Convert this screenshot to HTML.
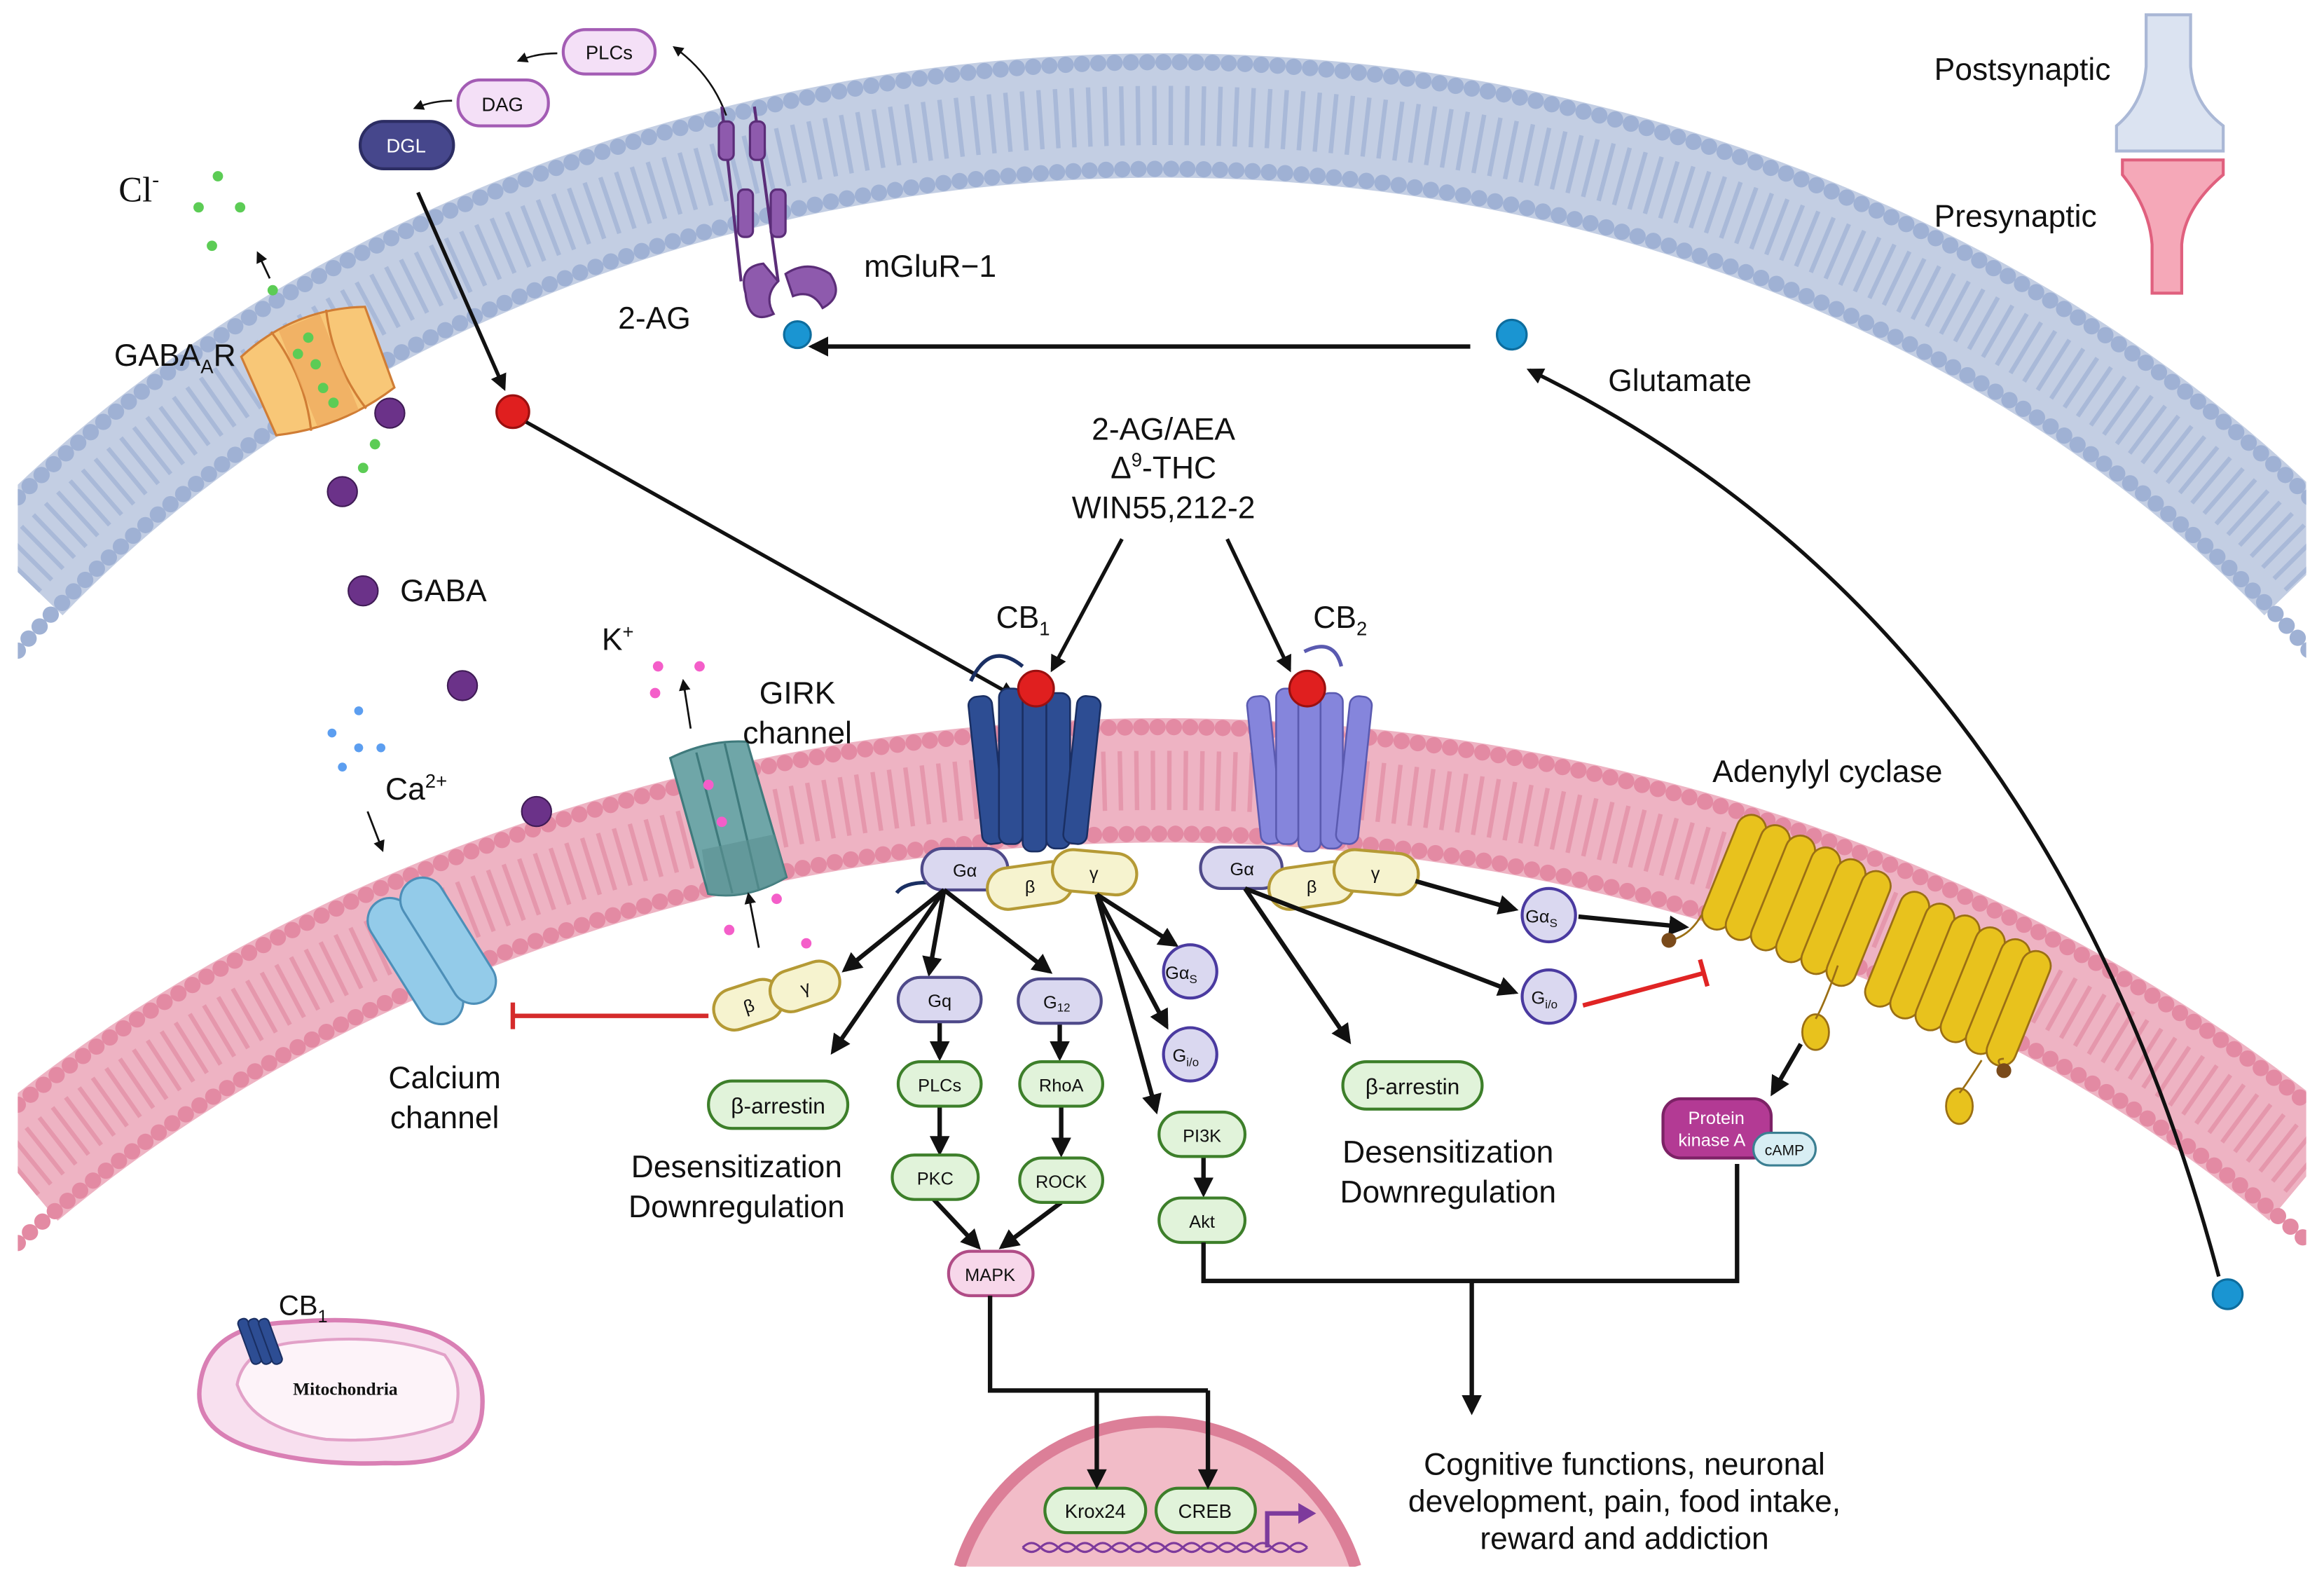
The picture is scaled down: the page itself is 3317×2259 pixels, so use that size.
<!DOCTYPE html>
<html><head><meta charset="utf-8"><style>
html,body{margin:0;padding:0;background:#fff;overflow:hidden;width:3317px;height:2259px;}
svg{display:block;position:absolute;left:0;top:0;}
text{font-family:"Liberation Sans",sans-serif;fill:#111;}
</style></head><body>
<svg width="3317" height="2259" viewBox="0 0 1568 1069" preserveAspectRatio="none" xmlns="http://www.w3.org/2000/svg">
<defs>
<marker id="ah" viewBox="0 0 10 10" refX="8" refY="5" markerWidth="4.5" markerHeight="4.5" orient="auto"><path d="M0,0 L10,5 L0,10 z" fill="#111"/></marker>
<marker id="ahs" viewBox="0 0 10 10" refX="8" refY="5" markerWidth="6" markerHeight="6" orient="auto"><path d="M0,0 L10,5 L0,10 z" fill="#111"/></marker>
<clipPath id="cl"><rect x="12" y="0" width="1544" height="1058"/></clipPath>
</defs>
<rect width="1568" height="1069" fill="#fff"/>
<g clip-path="url(#cl)">
<path d="M12,386.4 A990 822 0 0 1 1558,386.4" fill="none" stroke="#c3cee3" stroke-width="84"/>
<path d="M12,335.8 A1026 858 0 0 1 1558,335.8" fill="none" stroke="#9fb1d4" stroke-width="11" stroke-dasharray="0 11" stroke-linecap="round"/>
<path d="M12,439.4 A954 786 0 0 1 1558,439.4" fill="none" stroke="#9fb1d4" stroke-width="11" stroke-dasharray="0 11" stroke-linecap="round"/>
<path d="M12,386.4 A990 822 0 0 1 1558,386.4" fill="none" stroke="#a9b9d8" stroke-width="40" stroke-dasharray="3 8"/>
<path d="M12,792.1 A1077 873 0 0 1 1558,792.1" fill="none" stroke="#eeb3c3" stroke-width="84"/>
<path d="M12,746 A1113 909 0 0 1 1558,746" fill="none" stroke="#e38aa3" stroke-width="11" stroke-dasharray="0 11" stroke-linecap="round"/>
<path d="M12,839.4 A1041 837 0 0 1 1558,839.4" fill="none" stroke="#e38aa3" stroke-width="11" stroke-dasharray="0 11" stroke-linecap="round"/>
<path d="M12,792.1 A1077 873 0 0 1 1558,792.1" fill="none" stroke="#e597ac" stroke-width="40" stroke-dasharray="3 8"/>
<path d="M647.5,1058 A140 140 0 0 1 914.5,1058 Z" fill="#f2bcc8"/>
<path d="M647.5,1058 A140 140 0 0 1 914.5,1058" fill="none" stroke="#dc7f98" stroke-width="8"/>
</g>

<path d="M1448,10 L1478,10 L1478,45 Q1480,70 1500,85 L1500,102 L1428,102 L1428,85 Q1446,70 1448,45 Z" fill="#dbe3f1" stroke="#aab8d6" stroke-width="2"/>
<path d="M1432,108 L1500,108 L1500,118 Q1474,140 1472,165 L1472,198 L1452,198 L1452,165 Q1450,140 1432,118 Z" fill="#f5a8b8" stroke="#e0607e" stroke-width="2"/>
<text x="1305" y="54" font-size="21">Postsynaptic</text>
<text x="1305" y="153" font-size="21">Presynaptic</text>

<rect x="380" y="20" width="62" height="30" rx="15" fill="#f4e0f7" stroke="#a35cb4" stroke-width="2"/>
<text x="411" y="40" font-size="13" text-anchor="middle">PLCs</text>
<rect x="309" y="54" width="61" height="31" rx="15" fill="#f4e0f7" stroke="#a35cb4" stroke-width="2"/>
<text x="339" y="75" font-size="13" text-anchor="middle">DAG</text>
<rect x="243" y="82" width="63" height="32" rx="16" fill="#46478c" stroke="#2c2d63" stroke-width="2"/>
<text x="274" y="103" font-size="13" text-anchor="middle" style="fill:#fff">DGL</text>
<path d="M376,36 Q362,36 350,41" fill="none" stroke="#111" stroke-width="1.2" marker-end="url(#ahs)"/>
<path d="M305,68 Q292,68 280,73" fill="none" stroke="#111" stroke-width="1.2" marker-end="url(#ahs)"/>
<path d="M490,78 Q480,50 455,32" fill="none" stroke="#111" stroke-width="1.2" marker-end="url(#ahs)"/>

<g stroke="#5b2d78" stroke-width="1.5" fill="#8e5aad">
<line x1="487" y1="72" x2="500" y2="190" stroke-width="2"/>
<line x1="509" y1="72" x2="525" y2="190" stroke-width="2"/>
<rect x="485" y="82" width="10" height="26" rx="4"/>
<rect x="506" y="82" width="10" height="26" rx="4"/>
<rect x="498" y="128" width="10" height="32" rx="4"/>
<rect x="520" y="128" width="10" height="32" rx="4"/>
<path d="M503,198 Q498,180 515,178 L525,190 Q515,200 522,212 Q505,220 503,198 Z"/>
<path d="M530,185 Q545,175 560,185 Q570,200 555,208 Q548,195 535,200 Z"/>
</g>
<text x="583" y="187" font-size="21">mGluR−1</text>
<text x="417" y="222" font-size="21">2-AG</text>
<circle cx="538" cy="226" r="9" fill="#1a95d2" stroke="#0d6d9e" stroke-width="1.5"/>
<circle cx="1020" cy="226" r="10" fill="#1a95d2" stroke="#0d6d9e" stroke-width="1.5"/>
<circle cx="1503" cy="874" r="10" fill="#1a95d2" stroke="#0d6d9e" stroke-width="1.5"/>
<line x1="992" y1="234" x2="548" y2="234" stroke="#111" stroke-width="3" marker-end="url(#ah)"/>
<text x="1085" y="264" font-size="21">Glutamate</text>
<path d="M1497,862 Q1380,420 1032,250" fill="none" stroke="#111" stroke-width="2.5" marker-end="url(#ah)"/>

<text x="80" y="136" font-size="24" style="font-family:'Liberation Serif',serif">Cl<tspan font-size="14" dy="-10">-</tspan></text>
<g fill="#5ccc55"><circle cx="147" cy="119" r="3.5"/><circle cx="134" cy="140" r="3.5"/><circle cx="162" cy="140" r="3.5"/><circle cx="143" cy="166" r="3.5"/><circle cx="184" cy="196" r="3.5"/><circle cx="253" cy="300" r="3.5"/><circle cx="245" cy="316" r="3.5"/></g>
<line x1="182" y1="188" x2="174" y2="171" stroke="#111" stroke-width="1.3" marker-end="url(#ahs)"/>
<text x="77" y="247" font-size="21">GABA<tspan font-size="13" dy="5">A</tspan><tspan dy="-5">R</tspan></text>
<g transform="rotate(-22 215 250)">
<path d="M170,222 Q215,205 260,222 L258,280 Q215,292 172,280 Z" fill="#f8c777" stroke="#d07d35" stroke-width="1.5"/>
<path d="M195,214 Q205,250 195,286 M235,214 Q225,250 235,286" fill="none" stroke="#d07d35" stroke-width="1.5"/>
<rect x="200" y="215" width="30" height="70" fill="#eea95e" opacity="0.7"/>
</g>
<g fill="#5ccc55"><circle cx="208" cy="228" r="3.5"/><circle cx="201" cy="239" r="3.5"/><circle cx="213" cy="246" r="3.5"/><circle cx="218" cy="262" r="3.5"/><circle cx="225" cy="272" r="3.5"/></g>
<g fill="#6b3289" stroke="#3f1b55" stroke-width="1">
<circle cx="263" cy="279" r="10"/><circle cx="231" cy="332" r="10"/><circle cx="245" cy="399" r="10"/><circle cx="312" cy="463" r="10"/><circle cx="362" cy="548" r="10"/>
</g>
<text x="270" y="406" font-size="21">GABA</text>

<line x1="282" y1="130" x2="340" y2="262" stroke="#111" stroke-width="2.5" marker-end="url(#ah)"/>
<circle cx="346" cy="278" r="11" fill="#e01f1f" stroke="#9a1010" stroke-width="1.5"/>
<line x1="355" y1="285" x2="684" y2="470" stroke="#111" stroke-width="2.5" marker-end="url(#ah)"/>

<text x="785" y="297" font-size="21" text-anchor="middle">2-AG/AEA</text>
<text x="785" y="323" font-size="21" text-anchor="middle">Δ<tspan font-size="13" dy="-8">9</tspan><tspan dy="8">-THC</tspan></text>
<text x="785" y="350" font-size="21" text-anchor="middle">WIN55,212-2</text>
<line x1="757" y1="364" x2="710" y2="452" stroke="#111" stroke-width="2.5" marker-end="url(#ah)"/>
<line x1="828" y1="364" x2="870" y2="452" stroke="#111" stroke-width="2.5" marker-end="url(#ah)"/>
<text x="672" y="424" font-size="21">CB<tspan font-size="13" dy="5">1</tspan></text>
<text x="886" y="424" font-size="21">CB<tspan font-size="13" dy="5">2</tspan></text>

<g fill="#2d4d93" stroke="#1a2f63" stroke-width="1.2">
<path d="M655,460 Q668,432 690,450" fill="none" stroke="#1a2f63" stroke-width="2.5"/>
<rect x="658" y="470" width="16" height="100" rx="6" transform="rotate(-6 666 520)"/>
<rect x="674" y="465" width="16" height="105" rx="6"/>
<rect x="690" y="465" width="16" height="110" rx="6"/>
<rect x="706" y="468" width="16" height="105" rx="6"/>
<rect x="722" y="470" width="16" height="100" rx="6" transform="rotate(6 730 520)"/>
</g>
<circle cx="699" cy="465" r="12" fill="#e01f1f" stroke="#9a1010" stroke-width="1.5"/>
<path d="M605,603 Q610,596 625,596" fill="none" stroke="#1a2f63" stroke-width="2.5"/>
<g fill="#8585dc" stroke="#5a5ab0" stroke-width="1.2">
<path d="M880,440 Q900,430 905,450" fill="none" stroke="#5a5ab0" stroke-width="2.5"/>
<rect x="846" y="470" width="15" height="100" rx="6" transform="rotate(-6 853 520)"/>
<rect x="861" y="465" width="15" height="105" rx="6"/>
<rect x="876" y="465" width="15" height="110" rx="6"/>
<rect x="891" y="468" width="15" height="105" rx="6"/>
<rect x="906" y="470" width="15" height="100" rx="6" transform="rotate(6 913 520)"/>
</g>
<circle cx="882" cy="465" r="12" fill="#e01f1f" stroke="#9a1010" stroke-width="1.5"/>

<g stroke-width="2">
<rect x="622" y="573" width="58" height="28" rx="14" fill="#dad8f0" stroke="#4f4a8a"/>
<rect x="666" y="584" width="58" height="28" rx="14" fill="#f6f3cf" stroke="#b59a35" transform="rotate(-8 695 598)"/>
<rect x="710" y="575" width="57" height="28" rx="14" fill="#f6f3cf" stroke="#b59a35" transform="rotate(5 738 589)"/>
<rect x="810" y="572" width="55" height="28" rx="14" fill="#dad8f0" stroke="#4f4a8a"/>
<rect x="856" y="584" width="58" height="28" rx="14" fill="#f6f3cf" stroke="#b59a35" transform="rotate(-8 885 598)"/>
<rect x="900" y="575" width="57" height="28" rx="14" fill="#f6f3cf" stroke="#b59a35" transform="rotate(5 928 589)"/>
</g>
<g font-size="12" text-anchor="middle">
<text x="651" y="592">Gα</text><text x="695" y="603">β</text><text x="738" y="594">γ</text>
<text x="838" y="591">Gα</text><text x="885" y="603">β</text><text x="928" y="594">γ</text>
</g>

<g stroke="#111" stroke-width="3" fill="none" marker-end="url(#ah)">
<line x1="637" y1="601" x2="562" y2="710"/>
<line x1="637" y1="601" x2="570" y2="655"/>
<line x1="637" y1="601" x2="627" y2="657"/>
<line x1="637" y1="601" x2="708" y2="656"/>
<line x1="740" y1="604" x2="793" y2="638"/>
<line x1="740" y1="604" x2="787" y2="693"/>
<line x1="740" y1="604" x2="780" y2="750"/>
<line x1="634" y1="690" x2="634" y2="714"/>
<line x1="715" y1="690" x2="715" y2="714"/>
<line x1="634" y1="747" x2="634" y2="778"/>
<line x1="716" y1="747" x2="716" y2="779"/>
<line x1="630" y1="810" x2="660" y2="842"/>
<line x1="716" y1="812" x2="676" y2="842"/>
<line x1="812" y1="781" x2="812" y2="806"/>
<line x1="840" y1="600" x2="910" y2="703"/>
<line x1="840" y1="600" x2="1022" y2="670"/>
<line x1="955" y1="595" x2="1022" y2="614"/>
<line x1="1065" y1="619" x2="1137" y2="626"/>
<line x1="1215" y1="705" x2="1196" y2="738"/>
</g>
<g stroke-width="2">
<circle cx="803" cy="656" r="18" fill="#dad8f0" stroke="#4a3aa0"/>
<circle cx="803" cy="712" r="18" fill="#dad8f0" stroke="#4a3aa0"/>
<circle cx="1045" cy="618" r="18" fill="#dad8f0" stroke="#4a3aa0"/>
<circle cx="1045" cy="673" r="18" fill="#dad8f0" stroke="#4a3aa0"/>
<rect x="606" y="660" width="56" height="30" rx="15" fill="#dad8f0" stroke="#4f4a8a"/>
<rect x="687" y="661" width="56" height="30" rx="15" fill="#dad8f0" stroke="#4f4a8a"/>
<rect x="606" y="717" width="56" height="30" rx="15" fill="#e1f3da" stroke="#3d7f2a"/>
<rect x="688" y="717" width="56" height="30" rx="15" fill="#e1f3da" stroke="#3d7f2a"/>
<rect x="602" y="780" width="58" height="30" rx="15" fill="#e1f3da" stroke="#3d7f2a"/>
<rect x="688" y="782" width="56" height="30" rx="15" fill="#e1f3da" stroke="#3d7f2a"/>
<rect x="640" y="845" width="57" height="30" rx="15" fill="#f7d7ea" stroke="#b04c86"/>
<rect x="782" y="751" width="58" height="30" rx="15" fill="#e1f3da" stroke="#3d7f2a"/>
<rect x="782" y="809" width="58" height="30" rx="15" fill="#e1f3da" stroke="#3d7f2a"/>
<rect x="478" y="730" width="94" height="32" rx="16" fill="#e1f3da" stroke="#3d7f2a"/>
<rect x="906" y="717" width="94" height="32" rx="16" fill="#e1f3da" stroke="#3d7f2a"/>
<rect x="705" y="1005" width="68" height="30" rx="15" fill="#e1f3da" stroke="#3d7f2a"/>
<rect x="780" y="1005" width="67" height="30" rx="15" fill="#e1f3da" stroke="#3d7f2a"/>
</g>
<g font-size="12" text-anchor="middle">
<text x="797" y="661">Gα<tspan font-size="8" dy="3">S</tspan></text>
<text x="800" y="717">G<tspan font-size="8" dy="3">i/o</tspan></text>
<text x="1040" y="623">Gα<tspan font-size="8" dy="3">S</tspan></text>
<text x="1042" y="678">G<tspan font-size="8" dy="3">i/o</tspan></text>
<text x="634" y="680">Gq</text>
<text x="713" y="681">G<tspan font-size="8" dy="2">12</tspan></text>
<text x="634" y="737">PLCs</text>
<text x="716" y="737">RhoA</text>
<text x="631" y="800">PKC</text>
<text x="716" y="802">ROCK</text>
<text x="668" y="865">MAPK</text>
<text x="811" y="771">PI3K</text>
<text x="811" y="829">Akt</text>
<text x="525" y="752" font-size="15">β-arrestin</text>
<text x="953" y="739" font-size="15">β-arrestin</text>
<text x="739" y="1025" font-size="13">Krox24</text>
<text x="813" y="1025" font-size="13">CREB</text>
</g>
<text x="497" y="795" font-size="21" text-anchor="middle">Desensitization</text>
<text x="497" y="822" font-size="21" text-anchor="middle">Downregulation</text>
<text x="977" y="785" font-size="21" text-anchor="middle">Desensitization</text>
<text x="977" y="812" font-size="21" text-anchor="middle">Downregulation</text>

<g transform="rotate(-18 525 672)" stroke-width="2">
<rect x="480" y="658" width="48" height="28" rx="14" fill="#f6f3cf" stroke="#b59a35"/>
<rect x="520" y="658" width="48" height="28" rx="14" fill="#f6f3cf" stroke="#b59a35"/>
<text x="504" y="677" font-size="12" text-anchor="middle">β</text>
<text x="544" y="677" font-size="12" text-anchor="middle">γ</text>
</g>
<line x1="478" y1="686" x2="346" y2="686" stroke="#d52b2b" stroke-width="3"/>
<line x1="346" y1="677" x2="346" y2="695" stroke="#d52b2b" stroke-width="3"/>
<line x1="1068" y1="679" x2="1150" y2="657" stroke="#e02424" stroke-width="3"/>
<line x1="1147" y1="648" x2="1152" y2="666" stroke="#e02424" stroke-width="3"/>

<g transform="rotate(-32 290 640)" stroke="#4d8fb8" stroke-width="1.5" fill="#93cbe9">
<rect x="262" y="595" width="30" height="95" rx="15"/>
<rect x="288" y="595" width="30" height="95" rx="15"/>
</g>
<text x="300" y="735" font-size="21" text-anchor="middle">Calcium</text>
<text x="300" y="762" font-size="21" text-anchor="middle">channel</text>
<text x="260" y="540" font-size="21">Ca<tspan font-size="13" dy="-8">2+</tspan></text>
<g fill="#5c9ef0"><circle cx="242" cy="480" r="3"/><circle cx="224" cy="495" r="3"/><circle cx="242" cy="505" r="3"/><circle cx="257" cy="505" r="3"/><circle cx="231" cy="518" r="3"/></g>
<line x1="248" y1="548" x2="258" y2="574" stroke="#111" stroke-width="1.3" marker-end="url(#ahs)"/>

<g transform="rotate(-12 490 555)">
<path d="M462,505 Q490,498 515,505 L522,600 Q492,610 468,600 Z" fill="#6fa6a8" stroke="#3f7a7c" stroke-width="1.5"/>
<path d="M480,505 L484,603 M500,503 L502,605" stroke="#3f7a7c" stroke-width="1.5"/>
<path d="M470,570 L520,570 L522,600 Q492,610 468,600 Z" fill="#5b9193" opacity="0.6"/>
</g>
<g fill="#f45ec9"><circle cx="444" cy="450" r="3.5"/><circle cx="472" cy="450" r="3.5"/><circle cx="442" cy="468" r="3.5"/><circle cx="478" cy="530" r="3.5"/><circle cx="487" cy="555" r="3.5"/><circle cx="524" cy="607" r="3.5"/><circle cx="492" cy="628" r="3.5"/><circle cx="544" cy="637" r="3.5"/></g>
<line x1="466" y1="492" x2="461" y2="460" stroke="#111" stroke-width="1.3" marker-end="url(#ahs)"/>
<line x1="512" y1="640" x2="505" y2="604" stroke="#111" stroke-width="1.3" marker-end="url(#ahs)"/>
<text x="406" y="439" font-size="21">K<tspan font-size="13" dy="-8">+</tspan></text>
<text x="538" y="475" font-size="21" text-anchor="middle">GIRK</text>
<text x="538" y="502" font-size="21" text-anchor="middle">channel</text>

<text x="1233" y="528" font-size="21" text-anchor="middle">Adenylyl cyclase</text>
<g fill="#e8c21d" stroke="#9b6f14" stroke-width="1.3">
<rect x="1160" y="548" width="20" height="82" rx="10" transform="rotate(22 1170 589)"/>
<rect x="1176" y="555" width="20" height="82" rx="10" transform="rotate(22 1186 596)"/>
<rect x="1193" y="562" width="20" height="82" rx="10" transform="rotate(22 1203 603)"/>
<rect x="1210" y="570" width="20" height="82" rx="10" transform="rotate(22 1220 611)"/>
<rect x="1227" y="578" width="20" height="82" rx="10" transform="rotate(22 1237 619)"/>
<rect x="1244" y="586" width="20" height="82" rx="10" transform="rotate(22 1254 627)"/>
<rect x="1270" y="600" width="20" height="82" rx="10" transform="rotate(22 1280 641)"/>
<rect x="1287" y="608" width="20" height="82" rx="10" transform="rotate(22 1297 649)"/>
<rect x="1304" y="616" width="20" height="82" rx="10" transform="rotate(22 1314 657)"/>
<rect x="1321" y="624" width="20" height="82" rx="10" transform="rotate(22 1331 665)"/>
<rect x="1338" y="632" width="20" height="82" rx="10" transform="rotate(22 1348 673)"/>
<rect x="1352" y="640" width="20" height="82" rx="10" transform="rotate(22 1362 681)"/>
<ellipse cx="1225" cy="697" rx="9" ry="12"/>
<ellipse cx="1322" cy="747" rx="9" ry="12"/>
</g>
<path d="M1148,618 Q1140,632 1127,635 M1240,652 Q1230,680 1225,688 M1337,716 Q1325,735 1322,738 M1352,722 Q1345,715 1352,715" fill="none" stroke="#9b6f14" stroke-width="1.3"/>
<circle cx="1126" cy="635" r="5" fill="#7a4a1a"/>
<circle cx="1352" cy="723" r="5" fill="#7a4a1a"/>
<rect x="1122" y="742" width="73" height="40" rx="12" fill="#b33a94" stroke="#7d2266" stroke-width="2"/>
<text x="1158" y="759" font-size="12" text-anchor="middle" style="fill:#fff">Protein</text>
<text x="1155" y="774" font-size="12" text-anchor="middle" style="fill:#fff">kinase A</text>
<rect x="1183" y="765" width="42" height="22" rx="11" fill="#d8eef4" stroke="#3b7f92" stroke-width="1.5"/>
<text x="1204" y="780" font-size="10" text-anchor="middle">cAMP</text>

<g stroke="#111" stroke-width="3" fill="none">
<polyline points="812,839 812,865 1172,865 1172,786"/>
<line x1="993" y1="865" x2="993" y2="953" marker-end="url(#ah)"/>
<polyline points="668,875 668,939 815,939"/>
<line x1="740" y1="939" x2="740" y2="1003" marker-end="url(#ah)"/>
<line x1="815" y1="939" x2="815" y2="1003" marker-end="url(#ah)"/>
</g>
<path d="M690,1045 q6,-6 12,0 t12,0 t12,0 t12,0 t12,0 t12,0 t12,0 t12,0 t12,0 t12,0 t12,0 t12,0 t12,0 t12,0 t12,0 t12,0" fill="none" stroke="#7d3a9c" stroke-width="1.5"/>
<path d="M690,1045 q6,6 12,0 t12,0 t12,0 t12,0 t12,0 t12,0 t12,0 t12,0 t12,0 t12,0 t12,0 t12,0 t12,0 t12,0 t12,0 t12,0" fill="none" stroke="#7d3a9c" stroke-width="1.5"/>
<path d="M855,1045 L855,1022 L878,1022" fill="none" stroke="#7d3a9c" stroke-width="3"/>
<path d="M876,1015 L888,1022 L876,1029 Z" fill="#7d3a9c"/>

<text x="1096" y="996" font-size="21" text-anchor="middle">Cognitive functions, neuronal</text>
<text x="1096" y="1021" font-size="21" text-anchor="middle">development, pain, food intake,</text>
<text x="1096" y="1046" font-size="21" text-anchor="middle">reward and addiction</text>

<path d="M135,935 Q140,895 195,893 Q250,888 290,900 Q330,915 325,955 Q320,990 260,988 Q210,990 170,978 Q130,965 135,935 Z" fill="#f8e0ef" stroke="#d97fb4" stroke-width="3"/>
<path d="M160,935 Q165,908 205,906 Q260,900 300,915 Q315,935 305,960 Q270,975 220,972 Q170,965 160,935 Z" fill="#fdf3f9" stroke="#e2a1c8" stroke-width="2"/>
<g fill="#2d4d93" stroke="#1a2f63" stroke-width="1">
<rect x="165" y="890" width="7" height="32" rx="3" transform="rotate(-20 168 906)"/>
<rect x="172" y="890" width="7" height="32" rx="3" transform="rotate(-20 175 906)"/>
<rect x="179" y="890" width="7" height="32" rx="3" transform="rotate(-20 182 906)"/>
</g>
<text x="188" y="888" font-size="19">CB<tspan font-size="12" dy="5">1</tspan></text>
<text x="233" y="942" font-size="12" font-weight="bold" text-anchor="middle" style="font-family:'Liberation Serif',serif">Mitochondria</text>
</svg>
</body></html>
